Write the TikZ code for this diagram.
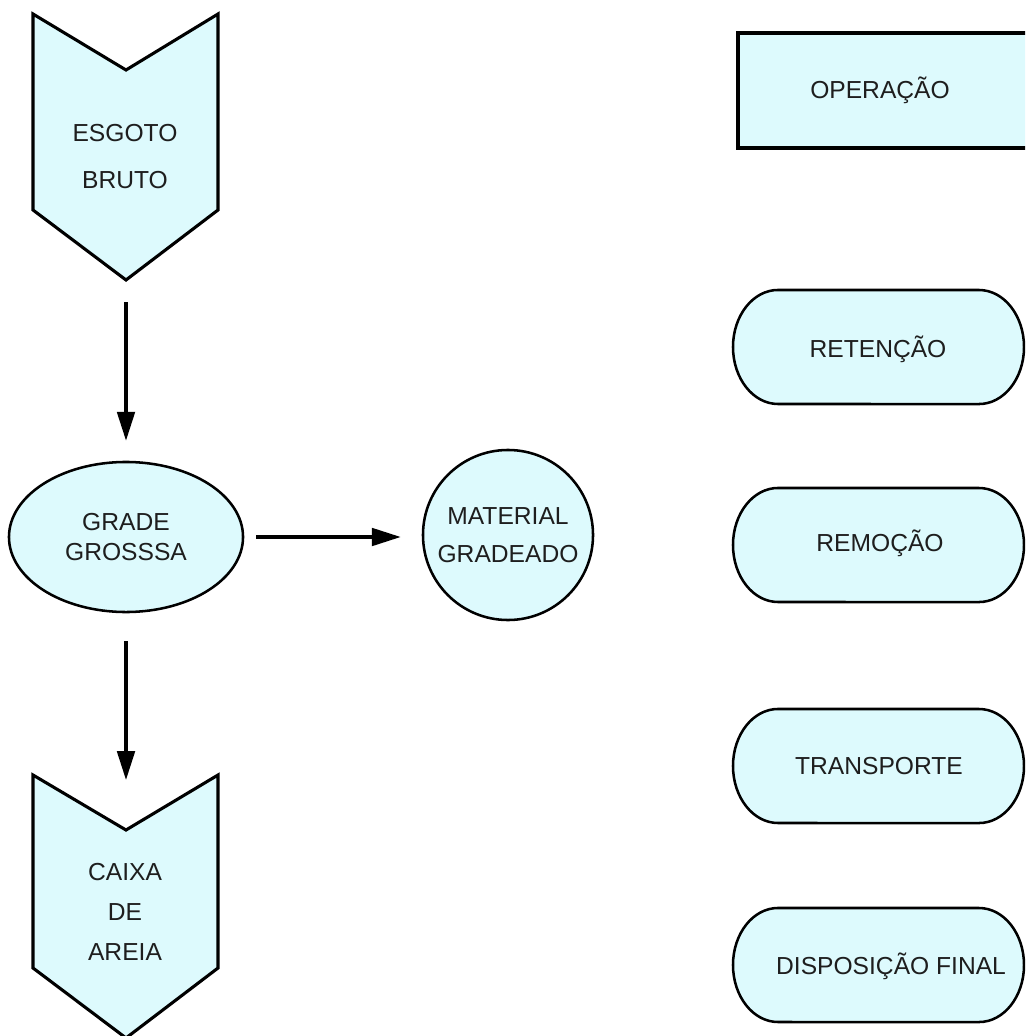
\documentclass[tikz,border=0pt]{standalone}
\usepackage{fontspec}
\setmainfont{Liberation Sans}
\usetikzlibrary{arrows.meta,shapes.geometric}
\definecolor{fillc}{RGB}{221,250,253}
\definecolor{txt}{RGB}{30,30,30}
\newcommand{\pillshape}[2]{%
  \draw[shp] (778,#1) -- (979,#1) arc[start angle=90,end angle=-90,x radius=1.125cm,y radius=1.425cm]
    -- (778,#2) arc[start angle=270,end angle=90,x radius=1.125cm,y radius=1.425cm] -- cycle;}
\begin{document}
\begin{tikzpicture}[x=0.025cm,y=-0.025cm,
  lbl/.style={text=txt,font=\fontsize{17.5}{21}\selectfont,align=center,inner sep=0pt},
  shp/.style={draw=black,fill=fillc,line width=1.8pt,line join=miter},
  chev/.style={shp,line width=2.2pt},
  arr/.style={draw=black,line width=2.2pt,-{Triangle[length=0.72cm,width=0.44cm]}}]
\useasboundingbox (0,0) rectangle (1025,1036);
\clip (0,0) rectangle (1025,1036);
% top chevron
\draw[chev] (33,14) -- (126,70) -- (218,14) -- (218,210) -- (126,280) -- (33,210) -- cycle;
\node[lbl,font=\fontsize{17.5}{33.4}\selectfont] (esg) at (125,156.5) {ESGOTO\\BRUTO};
\coordinate (p1) at (126,280);
% ellipse
\node[shp,ellipse,minimum width=5.85cm,minimum height=3.75cm,inner sep=0pt,
      text=txt,font=\fontsize{17.5}{21.3}\selectfont,align=center] (g) at (126,537) {GRADE\\GROSSSA};
% circle
\node[shp,circle,minimum size=4.25cm,inner sep=0pt,
      text=txt,font=\fontsize{17.5}{27}\selectfont,align=center] (mat) at (508,535) {MATERIAL\\GRADEADO};
% bottom chevron
\draw[chev] (33,775) -- (126,830) -- (218,775) -- (218,968) -- (126,1038) -- (33,968) -- cycle;
\node[lbl,font=\fontsize{17.5}{28.5}\selectfont] (cx) at (125,912) {CAIXA\\DE\\AREIA};
\coordinate (n2) at (126,830);
% arrows
\draw[arr,shorten <=0.55cm,shorten >=0.5cm] (p1) -- (g.north);
\draw[arr,shorten <=0.7cm,shorten >=1.25cm] (g.south) -- (n2);
\draw[arr,shorten <=0.3cm,shorten >=0.525cm] (g.east) -- (g.east -| mat.west);
% legend
\draw[shp,line width=2.2pt] (738,33) rectangle (1040,148);
\node[lbl,anchor=base] (op) at (880,99) {OPERAÇÃO};
\pillshape{290}{404}
\node[lbl,anchor=base] (ret) at (878,357) {RETENÇÃO};
\pillshape{488}{602}
\node[lbl,anchor=base] (rem) at (880,551) {REMOÇÃO};
\pillshape{709}{823}
\node[lbl,anchor=base] (tra) at (879,774) {TRANSPORTE};
\pillshape{908}{1022}
\node[lbl,anchor=base] (dis) at (891,974) {DISPOSIÇÃO FINAL};
\end{tikzpicture}
\end{document}
